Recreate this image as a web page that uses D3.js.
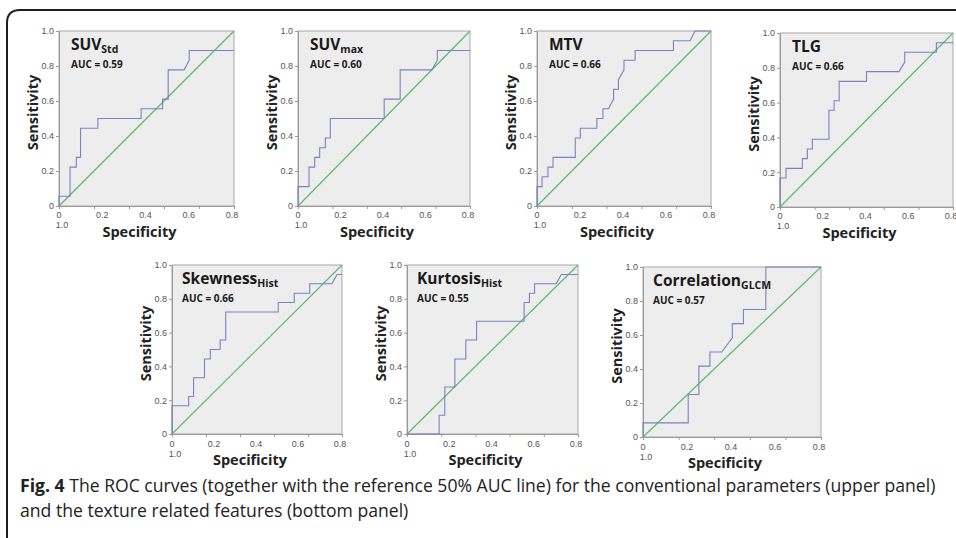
<!DOCTYPE html>
<html>
<head>
<meta charset="utf-8">
<title>ROC curves</title>
<script src="https://d3js.org/d3.v7.min.js"></script>
<style>
  body { margin: 0; background: #fff; }
  svg { display: block; }
  .tick text { font-family: "Liberation Sans", Arial, sans-serif; font-size: 9px; fill: #555; }
  .tick line, .domain { stroke: #9a9a9a; }
</style>
</head>
<body>
<svg width="956" height="538"></svg>
<script>
// panel titles, subscripts and AUC values
var titles = ["SUV", "SUV", "MTV", "TLG", "Skewness", "Kurtosis", "Correlation"];
var subs   = ["Std", "max", "", "", "Hist", "Hist", "GLCM"];
var aucs   = ["0.59", "0.60", "0.66", "0.66", "0.66", "0.55", "0.57"];

// tick values and labels
var yTicks = [0, 0.2, 0.4, 0.6, 0.8, 1.0];
var yTickLabels = ["0", "0.2", "0.4", "0.6", "0.8", "1.0"];
var xTicks = [0, 0.2, 0.4, 0.6, 0.8, 1.0];
var xTickLabels = ["0", "0.2", "0.4", "0.6", "0.8"];

// ROC curves: [1 - specificity, sensitivity]
var rocSUVstd = [[0,0],[0,0.056],[0.063,0.056],[0.063,0.222],[0.099,0.222],[0.099,0.278],[0.123,0.278],[0.123,0.444],
  [0.222,0.444],[0.222,0.5],[0.469,0.5],[0.469,0.556],[0.592,0.556],[0.592,0.611],[0.624,0.611],[0.624,0.778],
  [0.715,0.778],[0.744,0.833],[0.744,0.889],[1,0.889]];
var rocSUVmax = [[0,0],[0,0.111],[0.064,0.111],[0.064,0.222],[0.097,0.222],[0.097,0.278],[0.126,0.278],[0.126,0.333],
  [0.159,0.333],[0.159,0.389],[0.188,0.389],[0.188,0.5],[0.501,0.5],[0.501,0.611],[0.594,0.611],[0.594,0.778],
  [0.778,0.778],[0.81,0.833],[0.81,0.889],[1,0.889]];
var rocMTV = [[0,0],[0,0.111],[0.029,0.111],[0.029,0.167],[0.063,0.167],[0.063,0.222],[0.092,0.222],[0.092,0.278],
  [0.22,0.278],[0.22,0.389],[0.249,0.389],[0.249,0.444],[0.344,0.444],[0.344,0.5],[0.379,0.5],[0.379,0.556],
  [0.411,0.556],[0.44,0.611],[0.44,0.667],[0.468,0.667],[0.468,0.722],[0.5,0.778],[0.5,0.833],[0.564,0.833],
  [0.564,0.889],[0.784,0.889],[0.784,0.944],[0.88,0.944],[0.908,1],[1,1]];
var rocTLG = [[0,0],[0,0.167],[0.035,0.167],[0.035,0.222],[0.129,0.222],[0.129,0.278],[0.158,0.278],[0.158,0.333],
  [0.187,0.333],[0.187,0.389],[0.283,0.389],[0.283,0.556],[0.313,0.556],[0.313,0.611],[0.342,0.611],[0.342,0.722],
  [0.5,0.722],[0.5,0.778],[0.688,0.778],[0.721,0.833],[0.721,0.889],[0.904,0.889],[0.904,0.944],[1,0.944]];
var rocSkewness = [[0,0],[0,0.167],[0.098,0.167],[0.098,0.222],[0.127,0.222],[0.127,0.333],[0.191,0.333],[0.191,0.444],
  [0.225,0.444],[0.225,0.5],[0.283,0.5],[0.283,0.556],[0.316,0.556],[0.316,0.722],[0.625,0.722],[0.625,0.778],
  [0.719,0.778],[0.719,0.833],[0.81,0.833],[0.81,0.889],[0.941,0.889],[0.971,0.944],[1,0.944]];
var rocKurtosis = [[0,0],[0.188,0],[0.188,0.111],[0.221,0.111],[0.221,0.278],[0.28,0.278],[0.28,0.444],[0.344,0.444],
  [0.344,0.556],[0.407,0.556],[0.407,0.667],[0.685,0.667],[0.685,0.778],[0.716,0.778],[0.716,0.833],[0.746,0.833],
  [0.746,0.889],[0.873,0.889],[0.902,0.944],[1,0.944]];
var rocCorrelation = [[0,0],[0,0.083],[0.254,0.083],[0.254,0.25],[0.314,0.25],[0.314,0.417],[0.376,0.417],[0.376,0.5],
  [0.442,0.5],[0.502,0.583],[0.502,0.667],[0.564,0.667],[0.564,0.75],[0.69,0.75],[0.69,1],[1,1]];
var curves = [rocSUVstd, rocSUVmax, rocMTV, rocTLG, rocSkewness, rocKurtosis, rocCorrelation];

// plot boxes (layout)
var boxes = [
  {l: 59,  t: 31,  r: 234, b: 206},
  {l: 298, t: 31,  r: 470, b: 206},
  {l: 537, t: 31,  r: 711, b: 206},
  {l: 780, t: 33,  r: 953, b: 207},
  {l: 172, t: 265, r: 342, b: 434},
  {l: 407, t: 265, r: 578, b: 434},
  {l: 643, t: 267, r: 821, b: 437}
];

var svg = d3.select("svg");

// frame
svg.append("path")
   .attr("d", "M7,538 L7,23 Q7,10 20,10 L956,10")
   .attr("fill", "none")
   .attr("stroke", "#1e1e1e")
   .attr("stroke-width", 2);

boxes.forEach(function(bx, i) {
  var x = d3.scaleLinear().domain([0, 1]).range([bx.l, bx.r]);
  var y = d3.scaleLinear().domain([0, 1]).range([bx.b, bx.t]);
  var lower = i >= 4;

  svg.append("rect")
     .attr("x", bx.l).attr("y", bx.t)
     .attr("width", bx.r - bx.l).attr("height", bx.b - bx.t)
     .attr("fill", "#ededed")
     .attr("stroke", "#a8a8a8")
     .attr("stroke-width", 1);

  svg.append("g")
     .attr("transform", "translate(" + bx.l + ",0)")
     .call(d3.axisLeft(y).tickValues(yTicks).tickFormat(function(d, k) { return yTickLabels[k]; })
       .tickSize(3).tickPadding(2).tickSizeOuter(0));

  svg.append("g")
     .attr("transform", "translate(0," + bx.b + ")")
     .call(d3.axisBottom(x).tickValues(xTicks).tickFormat("").tickSize(3).tickSizeOuter(0));

  // x labels spread evenly over the axis
  var xl = d3.scalePoint().domain(xTickLabels).range([bx.l, bx.r - 2]);
  var ly = bx.b + (lower ? 13 : 12);
  svg.append("g").selectAll("text")
     .data(xTickLabels).enter().append("text")
     .attr("x", function(d) { return xl(d); })
     .attr("y", ly)
     .attr("text-anchor", "middle")
     .attr("font-family", "Liberation Sans, Arial, sans-serif")
     .attr("font-size", 9).attr("fill", "#555")
     .text(function(d) { return d; });
  svg.append("text")
     .attr("x", bx.l + 3).attr("y", ly + 10)
     .attr("text-anchor", "middle")
     .attr("font-family", "Liberation Sans, Arial, sans-serif")
     .attr("font-size", 9).attr("fill", "#555")
     .text("1.0");

  svg.append("text")
     .attr("x", (bx.l + bx.r) / 2 - 7).attr("y", bx.b + 31)
     .attr("text-anchor", "middle")
     .attr("font-family", "Open Sans, sans-serif").attr("font-weight", "bold")
     .attr("font-size", 14.5).attr("fill", "#222")
     .text("Specificity");

  var cy = (bx.t + bx.b) / 2 - 6;
  svg.append("text")
     .attr("transform", "translate(" + (bx.l - 21) + "," + cy + ") rotate(-90)")
     .attr("text-anchor", "middle")
     .attr("font-family", "Open Sans, sans-serif").attr("font-weight", "bold")
     .attr("font-size", 14.5).attr("fill", "#222")
     .text("Sensitivity");

  // reference line
  svg.append("line")
     .attr("x1", x(0)).attr("y1", y(0)).attr("x2", x(1)).attr("y2", y(1))
     .attr("stroke", "#5fb870").attr("stroke-width", 1.2);

  // ROC curve
  var line = d3.line().x(function(d) { return x(d[0]); }).y(function(d) { return y(d[1]); });
  svg.append("path")
     .datum(curves[i])
     .attr("d", line)
     .attr("fill", "none")
     .attr("stroke", "#7a82c2")
     .attr("stroke-width", 1.1);

  var tx = bx.l + (lower ? 10 : 12);
  var t = svg.append("text")
     .attr("x", tx).attr("y", bx.t + 19)
     .attr("font-family", "Open Sans, sans-serif").attr("font-weight", "bold")
     .attr("font-size", 15.5).attr("fill", "#1a1a1a");
  t.append("tspan").text(titles[i]);
  if (subs[i]) t.append("tspan").attr("font-size", 10.5).attr("dy", 3).text(subs[i]);

  svg.append("text")
     .attr("x", tx).attr("y", bx.t + 37)
     .attr("font-family", "Open Sans, sans-serif").attr("font-weight", "bold")
     .attr("font-size", 10).attr("fill", "#1a1a1a")
     .text("AUC = " + aucs[i]);
});

// caption
var cap = svg.append("text")
   .attr("x", 20).attr("y", 492)
   .attr("font-family", "Open Sans, sans-serif")
   .attr("font-size", 17.6).attr("fill", "#222");
cap.append("tspan").attr("font-weight", "bold").text("Fig. 4");
cap.append("tspan").text(" The ROC curves (together with the reference 50% AUC line) for the conventional parameters (upper panel)");
svg.append("text")
   .attr("x", 20).attr("y", 517)
   .attr("font-family", "Open Sans, sans-serif")
   .attr("font-size", 17.6).attr("fill", "#222")
   .text("and the texture related features (bottom panel)");
</script>
</body>
</html>
